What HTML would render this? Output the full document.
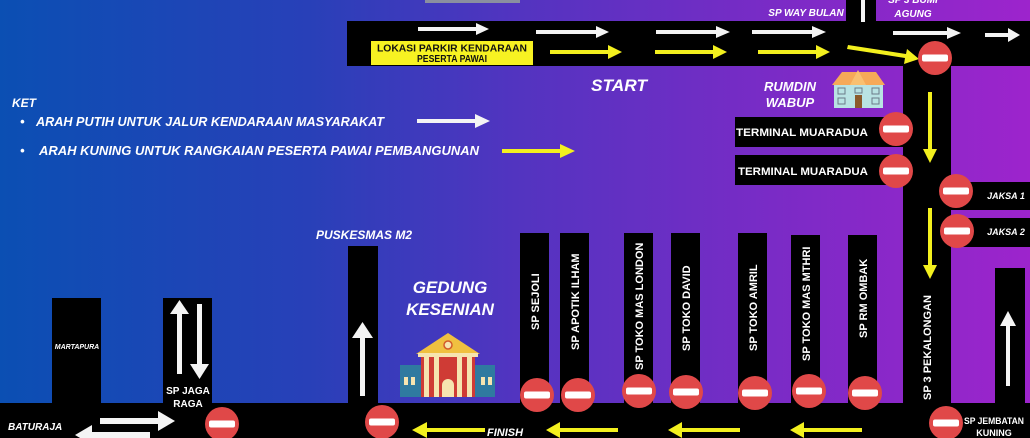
<!DOCTYPE html>
<html><head><meta charset="utf-8"><style>
html,body{margin:0;padding:0;width:1030px;height:438px;overflow:hidden;background:#000}
svg{display:block}
text{font-family:"Liberation Sans",sans-serif;font-weight:bold;fill:#fff}
.i{font-style:italic}
</style></head><body>
<svg width="1030" height="438" viewBox="0 0 1030 438" xmlns="http://www.w3.org/2000/svg">
<defs>
<linearGradient id="bg" x1="0" y1="0" x2="1" y2="0">
<stop offset="0" stop-color="#0b4fb3"/>
<stop offset="0.3" stop-color="#2840b8"/>
<stop offset="0.5" stop-color="#5234c0"/>
<stop offset="0.75" stop-color="#7a2bc6"/>
<stop offset="1" stop-color="#9d24cc"/>
</linearGradient>
<g id="ne"><circle r="17" fill="#e04848"/><rect x="-13" y="-3.5" width="26" height="7" rx="2" fill="#fff"/></g>
</defs>
<rect width="1030" height="438" fill="url(#bg)"/>
<rect x="425" y="0" width="95" height="3" fill="#8a8fa0"/>

<rect x="347" y="21" width="683" height="45" fill="#000"/>
<rect x="846" y="0" width="30" height="22" fill="#000"/>
<rect x="903" y="60" width="48" height="378" fill="#000"/>
<rect x="735" y="117" width="170" height="30" fill="#000"/>
<rect x="735" y="155" width="170" height="30" fill="#000"/>
<rect x="950" y="182" width="80" height="28" fill="#000"/>
<rect x="950" y="218" width="80" height="29" fill="#000"/>
<rect x="995" y="268" width="30" height="170" fill="#000"/>
<rect x="0" y="403" width="1030" height="35" fill="#000"/>
<rect x="52" y="298" width="49" height="110" fill="#000"/>
<rect x="163" y="298" width="49" height="110" fill="#000"/>
<rect x="348" y="246" width="30" height="160" fill="#000"/>
<rect x="520" y="233" width="29" height="170" fill="#000"/>
<rect x="560" y="233" width="29" height="170" fill="#000"/>
<rect x="624" y="233" width="29" height="170" fill="#000"/>
<rect x="671" y="233" width="29" height="170" fill="#000"/>
<rect x="738" y="233" width="29" height="170" fill="#000"/>
<rect x="791" y="235" width="29" height="170" fill="#000"/>
<rect x="848" y="235" width="29" height="170" fill="#000"/>

<g fill="#f4f4f4">
<rect x="418" y="27" width="60" height="4"/><polygon points="476,23 489,29 476,35"/>
<rect x="536" y="30" width="62" height="4"/><polygon points="596,26 609,32 596,38"/>
<rect x="656" y="30" width="62" height="4"/><polygon points="716,26 730,32 716,38"/>
<rect x="752" y="30" width="62" height="4"/><polygon points="812,26 826,32 812,38"/>
<rect x="893" y="31" width="56" height="4"/><polygon points="947,27 961,33 947,39"/>
<rect x="985" y="33" width="24" height="4"/><polygon points="1008,28 1020,35 1008,42"/>
<rect x="861" y="0" width="4" height="22"/>
<rect x="417" y="119" width="60" height="4"/><polygon points="475,114 490,121 475,128"/>
<rect x="177" y="312" width="5" height="62"/><polygon points="170,314 179.5,300 189,314"/>
<rect x="197" y="304" width="5" height="62"/><polygon points="190,364 199.5,379 209,364"/>
<rect x="360" y="336" width="5" height="60"/><polygon points="352,338 362.5,322 373,338"/>
<rect x="100" y="418" width="60" height="6"/><polygon points="158,411 175,421 158,431"/>
<rect x="90" y="432" width="60" height="6"/><polygon points="92,425 75,435 92,445"/>
<rect x="1006" y="324" width="4" height="62"/><polygon points="1000,326 1008,311 1016,326"/>
</g>

<g fill="#f3f01e">
<rect x="550" y="50" width="60" height="4"/><polygon points="608,45 622,52 608,59"/>
<rect x="655" y="50" width="60" height="4"/><polygon points="713,45 727,52 713,59"/>
<rect x="758" y="50" width="60" height="4"/><polygon points="816,45 830,52 816,59"/>
<polygon points="848,45 906,54 907,49 919,59 904,64 905,58 847,49"/>
<rect x="928" y="92" width="4" height="58"/><polygon points="923,149 930,163 937,149"/>
<rect x="928" y="208" width="4" height="58"/><polygon points="923,265 930,279 937,265"/>
<rect x="502" y="149" width="60" height="4"/><polygon points="560,144 575,151 560,158"/>
<rect x="425" y="428" width="60" height="4"/><polygon points="427,422 412,430 427,438"/>
<rect x="558" y="428" width="60" height="4"/><polygon points="560,422 546,430 560,438"/>
<rect x="680" y="428" width="60" height="4"/><polygon points="682,422 668,430 682,438"/>
<rect x="802" y="428" width="60" height="4"/><polygon points="804,422 790,430 804,438"/>
</g>

<rect x="371" y="41" width="162" height="24" fill="#f7f222"/>
<text x="452" y="51.5" font-size="10" text-anchor="middle" style="fill:#111" textLength="150" lengthAdjust="spacingAndGlyphs">LOKASI PARKIR KENDARAAN</text>
<text x="452" y="62" font-size="10" text-anchor="middle" style="fill:#111" textLength="70" lengthAdjust="spacingAndGlyphs">PESERTA PAWAI</text>

<use href="#ne" x="935" y="58"/>
<use href="#ne" x="896" y="129"/>
<use href="#ne" x="896" y="171"/>
<use href="#ne" x="956" y="191"/>
<use href="#ne" x="957" y="231"/>
<use href="#ne" x="537" y="395"/>
<use href="#ne" x="578" y="395"/>
<use href="#ne" x="639" y="391"/>
<use href="#ne" x="686" y="392"/>
<use href="#ne" x="755" y="393"/>
<use href="#ne" x="809" y="391"/>
<use href="#ne" x="865" y="393"/>
<use href="#ne" x="382" y="422"/>
<use href="#ne" x="222" y="424"/>
<use href="#ne" x="946" y="423"/>

<g>
<polygon points="832,85 842,72 876,72 885,85" fill="#f6a958"/>
<polygon points="850,85 858,70 866,85" fill="#f9c070"/>
<rect x="834" y="85" width="49" height="23" fill="#b9e3e3"/>
<rect x="855" y="95" width="7" height="13" fill="#8b5a2b"/>
<g fill="none" stroke="#6b7b88" stroke-width="1"><rect x="838" y="88" width="7" height="6"/><rect x="872" y="88" width="7" height="6"/><rect x="838" y="98" width="7" height="6"/><rect x="872" y="98" width="7" height="6"/><rect x="855" y="88" width="7" height="5"/></g>
</g>

<g>
<rect x="400" y="365" width="95" height="32" fill="#2f7aa0"/>
<rect x="421" y="356" width="54" height="41" fill="#cf3b35"/>
<polygon points="416,354 448,333 480,354" fill="#f0c040"/>
<rect x="418" y="353" width="60" height="4" fill="#f6e4b0"/>
<circle cx="448" cy="345" r="4" fill="#f6e4b0" stroke="#d25a2a" stroke-width="1.5"/>
<g fill="#f6e4b0"><rect x="424" y="357" width="5" height="40"/><rect x="434" y="357" width="5" height="40"/><rect x="457" y="357" width="5" height="40"/><rect x="467" y="357" width="5" height="40"/>
<path d="M442 397 V385 a6 6 0 0 1 12 0 V397 Z"/>
<rect x="404" y="377" width="4" height="8"/><rect x="411" y="377" width="4" height="8"/><rect x="481" y="377" width="4" height="8"/><rect x="488" y="377" width="4" height="8"/></g>
</g>

<text x="12" y="107" font-size="12" class="i">KET</text>
<text x="20" y="126" font-size="13" class="i">•</text>
<text x="36" y="126" font-size="12.5" class="i" textLength="348" lengthAdjust="spacingAndGlyphs">ARAH PUTIH UNTUK JALUR KENDARAAN MASYARAKAT</text>
<text x="20" y="155" font-size="13" class="i">•</text>
<text x="39" y="155" font-size="12.5" class="i" textLength="440" lengthAdjust="spacingAndGlyphs">ARAH KUNING UNTUK RANGKAIAN PESERTA PAWAI PEMBANGUNAN</text>
<text x="619" y="91" font-size="17" class="i" text-anchor="middle" textLength="56" lengthAdjust="spacingAndGlyphs">START</text>
<text x="790" y="91" font-size="13" class="i" text-anchor="middle">RUMDIN</text>
<text x="790" y="107" font-size="13" class="i" text-anchor="middle">WABUP</text>
<text x="806" y="16" font-size="10" class="i" text-anchor="middle">SP WAY BULAN</text>
<text x="913" y="3" font-size="10" class="i" text-anchor="middle">SP 3 BUMI</text>
<text x="913" y="17" font-size="10" class="i" text-anchor="middle">AGUNG</text>
<text x="802" y="136" font-size="11" text-anchor="middle" textLength="132" lengthAdjust="spacingAndGlyphs">TERMINAL MUARADUA</text>
<text x="803" y="175" font-size="11" text-anchor="middle" textLength="130" lengthAdjust="spacingAndGlyphs">TERMINAL MUARADUA</text>
<text x="1006" y="199" font-size="9" class="i" text-anchor="middle">JAKSA 1</text>
<text x="1006" y="235" font-size="9" class="i" text-anchor="middle">JAKSA 2</text>
<text x="364" y="239" font-size="12" class="i" text-anchor="middle">PUSKESMAS M2</text>
<text x="450" y="293" font-size="17" class="i" text-anchor="middle">GEDUNG</text>
<text x="450" y="315" font-size="17" class="i" text-anchor="middle">KESENIAN</text>
<text x="77" y="349" font-size="7" class="i" text-anchor="middle">MARTAPURA</text>
<text x="188" y="394" font-size="10" text-anchor="middle">SP JAGA</text>
<text x="188" y="407" font-size="10" text-anchor="middle">RAGA</text>
<text x="8" y="430" font-size="10" class="i">BATURAJA</text>
<text x="487" y="436" font-size="11" class="i">FINISH</text>
<text x="994" y="424" font-size="9" text-anchor="middle" textLength="60" lengthAdjust="spacingAndGlyphs">SP JEMBATAN</text>
<text x="994" y="436" font-size="9" text-anchor="middle">KUNING</text>

<g font-size="11">
<text transform="translate(539,330) rotate(-90)">SP SEJOLI</text>
<text transform="translate(579,350) rotate(-90)">SP APOTIK ILHAM</text>
<text transform="translate(643,370) rotate(-90)">SP TOKO MAS LONDON</text>
<text transform="translate(690,351) rotate(-90)">SP TOKO DAVID</text>
<text transform="translate(757,351) rotate(-90)">SP TOKO AMRIL</text>
<text transform="translate(810,361) rotate(-90)">SP TOKO MAS MTHRI</text>
<text transform="translate(867,338) rotate(-90)">SP RM OMBAK</text>
<text transform="translate(931,400) rotate(-90)">SP 3 PEKALONGAN</text>
</g>
</svg>
</body></html>
